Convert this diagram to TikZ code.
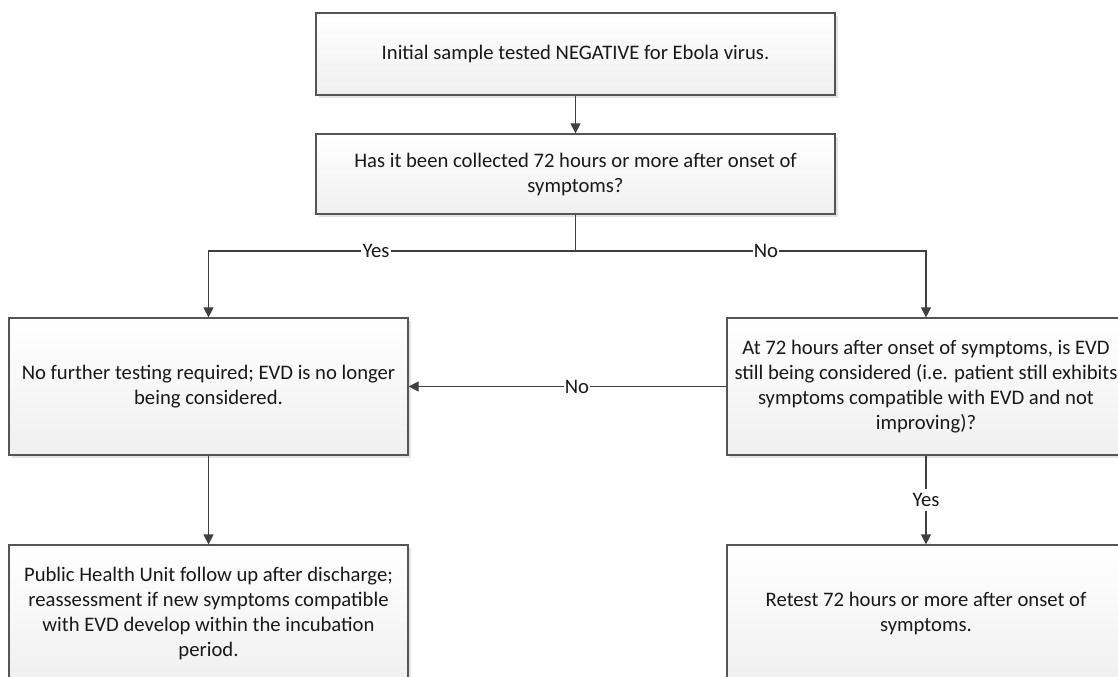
\documentclass[tikz,border=0pt]{standalone}
\usepackage{fontspec}
\setmainfont{Carlito}
\usetikzlibrary{arrows.meta,shadows}
\definecolor{boxline}{HTML}{555555}
\definecolor{arrline}{HTML}{404040}
\begin{document}
\begin{tikzpicture}[x=0.75pt,y=-0.75pt,
  box/.style={draw=boxline, line width=0.9pt, top color=white, bottom color=black!6,
    drop shadow={shadow xshift=2.2pt, shadow yshift=-2.2pt, fill=black!18, opacity=0.6},
    align=center, inner sep=4pt, text=black!90,
    font=\fontsize{15.5}{18.75}\selectfont},
  arr/.style={draw=arrline, line width=0.9pt, -{Triangle[length=7.5pt,width=7.5pt]}},
  ln/.style={draw=arrline, line width=0.9pt},
  lbl/.style={fill=white, inner sep=1pt, text=black!90, font=\fontsize{15.5}{17}\selectfont}]
\useasboundingbox[fill=white] (0,0) rectangle (1118,677);
\node[box, minimum width=389.25pt, minimum height=61.5pt] (init) at (575.5,54)
  {Initial sample tested NEGATIVE for Ebola virus.};
\node[box, minimum width=389.25pt, minimum height=60pt] (q1) at (575.5,174)
  {Has it been collected 72 hours or more after onset of\\symptoms?};
\node[box, minimum width=299.25pt, minimum height=102.75pt] (nofur) at (208.5,386.5)
  {No further testing required; EVD is no longer\\being considered.};
\node[box, minimum width=298.5pt, minimum height=102.75pt] (q2) at (926,386.5)
  {At 72 hours after onset of symptoms, is EVD\\still being considered (i.e. patient still exhibits\\symptoms compatible with EVD and not\\improving)?};
\node[box, minimum width=299.25pt, minimum height=102.75pt] (phu) at (208.5,613.5)
  {Public Health Unit follow up after discharge;\\reassessment if new symptoms compatible\\with EVD develop within the incubation\\period.};
\node[box, minimum width=298.5pt, minimum height=102.75pt] (retest) at (926,613.5)
  {Retest 72 hours or more after onset of\\symptoms.};
\coordinate (j) at (575.5,251);
\draw[arr] (init) -- (q1);
\draw[ln] (q1) -- (j);
\draw[arr] (j) -| (nofur);
\draw[arr] (j) -| (q2);
\draw[arr] (q2) -- (nofur);
\draw[arr] (nofur) -- (phu);
\draw[arr] (q2) -- (retest);
\node[lbl] (yes1) at (376,251) {Yes};
\node[lbl] (no1) at (766,251) {No};
\node[lbl] (no2) at (577,387) {No};
\node[lbl, inner ysep=3.5pt] (yes2) at (926,500) {Yes};
\end{tikzpicture}
\end{document}
